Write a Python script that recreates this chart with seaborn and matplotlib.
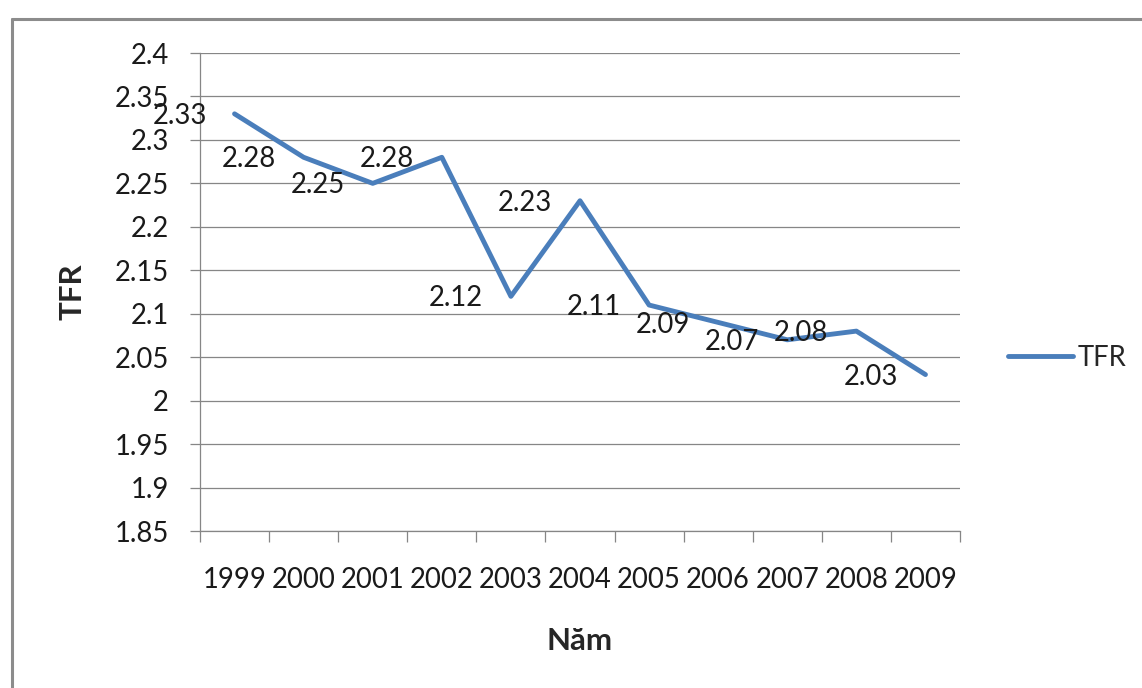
import matplotlib
matplotlib.use("Agg")
import matplotlib.pyplot as plt
from matplotlib.lines import Line2D
import seaborn as sns
import pandas as pd
import numpy as np

years = ["1999", "2000", "2001", "2002", "2003", "2004", "2005", "2006", "2007", "2008", "2009"]
tfr = [2.33, 2.28, 2.25, 2.28, 2.12, 2.23, 2.11, 2.09, 2.07, 2.08, 2.03]
y_ticks = [1.85, 1.9, 1.95, 2.0, 2.05, 2.1, 2.15, 2.2, 2.25, 2.3, 2.35, 2.4]
series_name = "TFR"
x_title = "Năm"
y_title = "TFR"

sns.set_style("white")
plt.rcParams["font.family"] = ["Lato", "DejaVu Sans"]

W, H = 1142, 688
fig = plt.figure(figsize=(W / 100, H / 100), dpi=100)
ax = fig.add_axes([200 / W, 1 - 531 / H, 760 / W, 478 / H])

grey = "#868686"
line_col = "#4a7ebb"
fs = 19.8
tfs = 22.5

df = pd.DataFrame({"year": years, "TFR": tfr})
sns.lineplot(data=df, x="year", y="TFR", ax=ax, color=line_col, lw=3.5,
             label=series_name, solid_capstyle="round", solid_joinstyle="round",
             sort=False, zorder=3)

n = len(years)
ax.set_xlim(-0.5, n - 0.5)
ax.set_ylim(y_ticks[0], y_ticks[-1])

# y axis
ax.set_yticks(y_ticks)
ax.set_yticklabels([f"{v:g}" for v in y_ticks])
ax.yaxis.grid(True, color=grey, lw=0.9)
ax.xaxis.grid(False)
ax.tick_params(axis="y", which="major", length=7.5, width=0.9, color=grey,
               pad=15, labelsize=fs, left=True, direction="out", labelcolor="#1a1a1a")

# x axis: tick marks at boundaries, labels at centers
ax.set_xticks(np.arange(-0.5, n, 1.0))
ax.set_xticklabels([])
ax.set_xticks(np.arange(n), minor=True)
ax.set_xticklabels(years, minor=True)
ax.tick_params(axis="x", which="major", length=8, width=0.9, color=grey,
               bottom=True, direction="out")
ax.tick_params(axis="x", which="minor", length=0, pad=26, labelsize=fs, labelcolor="#1a1a1a")

for s in ["top", "right"]:
    ax.spines[s].set_visible(False)
for s in ["left", "bottom"]:
    ax.spines[s].set_color(grey)
    ax.spines[s].set_linewidth(0.9)

# data labels
for i, v in enumerate(tfr):
    ax.annotate(f"{v:.2f}", (i, v), xytext=(-20, -1.5), textcoords="offset points",
                ha="right", va="center", fontsize=fs, color="#1a1a1a", zorder=5)

ax.set_xlabel(x_title, fontsize=tfs, fontweight="bold")
ax.set_ylabel(y_title, fontsize=tfs, fontweight="bold")
ax.xaxis.set_label_coords(0.5, (531 - 641) / 478)
ax.xaxis.label.set_va("center")
ax.yaxis.set_label_coords((72 - 200) / 760, 0.5)
ax.yaxis.label.set_va("center")

ax.legend(loc="center left", bbox_to_anchor=(1008 / W, 1 - 358 / H),
          bbox_transform=fig.transFigure, frameon=False, borderpad=0,
          borderaxespad=0, handlelength=2.35, handletextpad=0.2, fontsize=fs)

# outer chart frame
fig.add_artist(Line2D([12 / W, 12 / W], [0, 1 - 19 / H], transform=fig.transFigure,
                      color="#8c8c8c", lw=2.2))
fig.add_artist(Line2D([12 / W, 1], [1 - 19 / H, 1 - 19 / H], transform=fig.transFigure,
                      color="#8c8c8c", lw=2.2))

fig.savefig("out.png", dpi=100)
